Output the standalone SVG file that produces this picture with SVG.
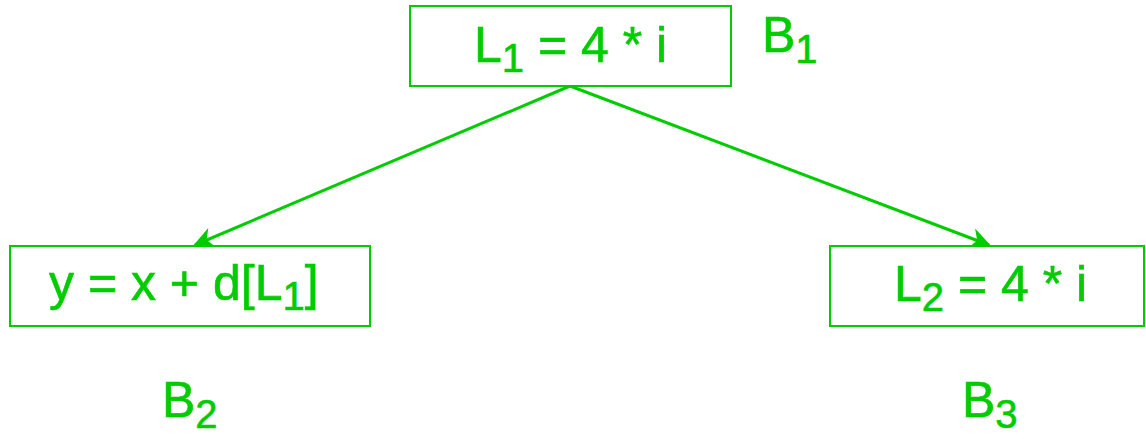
<svg xmlns="http://www.w3.org/2000/svg" width="1146" height="439" viewBox="0 0 1146 439">
  <style>
    .box { fill: #ffffff; stroke: #00cc00; stroke-width: 2; }
    .lbl { font-family: "Liberation Sans", Arial, sans-serif; font-size: 50px; fill: #00cc00; stroke: #00cc00; stroke-width: 0.6; }
    .sub { font-size: 40px; }
    .edge { stroke: #00cc00; stroke-width: 3; fill: none; marker-end: url(#arrow); }
  </style>
  <defs>
    <marker id="arrow" viewBox="0 0 10 10" refX="9" refY="5" markerWidth="7" markerHeight="7" markerUnits="strokeWidth" orient="auto">
      <path d="M0,0 L10,5 L0,10 L3,5 Z" fill="#00cc00"/>
    </marker>
  </defs>
  <rect width="1146" height="439" fill="#ffffff"/>

  <g id="connectors">
    <line class="edge" x1="570" y1="86" x2="195" y2="245"/>
    <line class="edge" x1="570" y1="86" x2="989" y2="245"/>
  </g>

  <g id="B1">
    <rect class="box" x="410" y="6" width="321" height="80"/>
    <text class="lbl" x="474" y="62">L<tspan class="sub" dy="10">1</tspan><tspan dy="-10"> = 4 * i</tspan></text>
    <text class="lbl" x="762" y="52">B<tspan class="sub" dy="11">1</tspan></text>
  </g>

  <g id="B2">
    <rect class="box" x="10" y="246" width="360" height="80"/>
    <text class="lbl" x="49" y="300">y = x + d[L<tspan class="sub" dy="10">1</tspan><tspan dy="-10">]</tspan></text>
    <text class="lbl" x="162" y="417">B<tspan class="sub" dy="11">2</tspan></text>
  </g>

  <g id="B3">
    <rect class="box" x="830" y="246" width="314" height="80"/>
    <text class="lbl" x="894" y="301">L<tspan class="sub" dy="10">2</tspan><tspan dy="-10"> = 4 * i</tspan></text>
    <text class="lbl" x="962" y="417">B<tspan class="sub" dy="11">3</tspan></text>
  </g>
</svg>
